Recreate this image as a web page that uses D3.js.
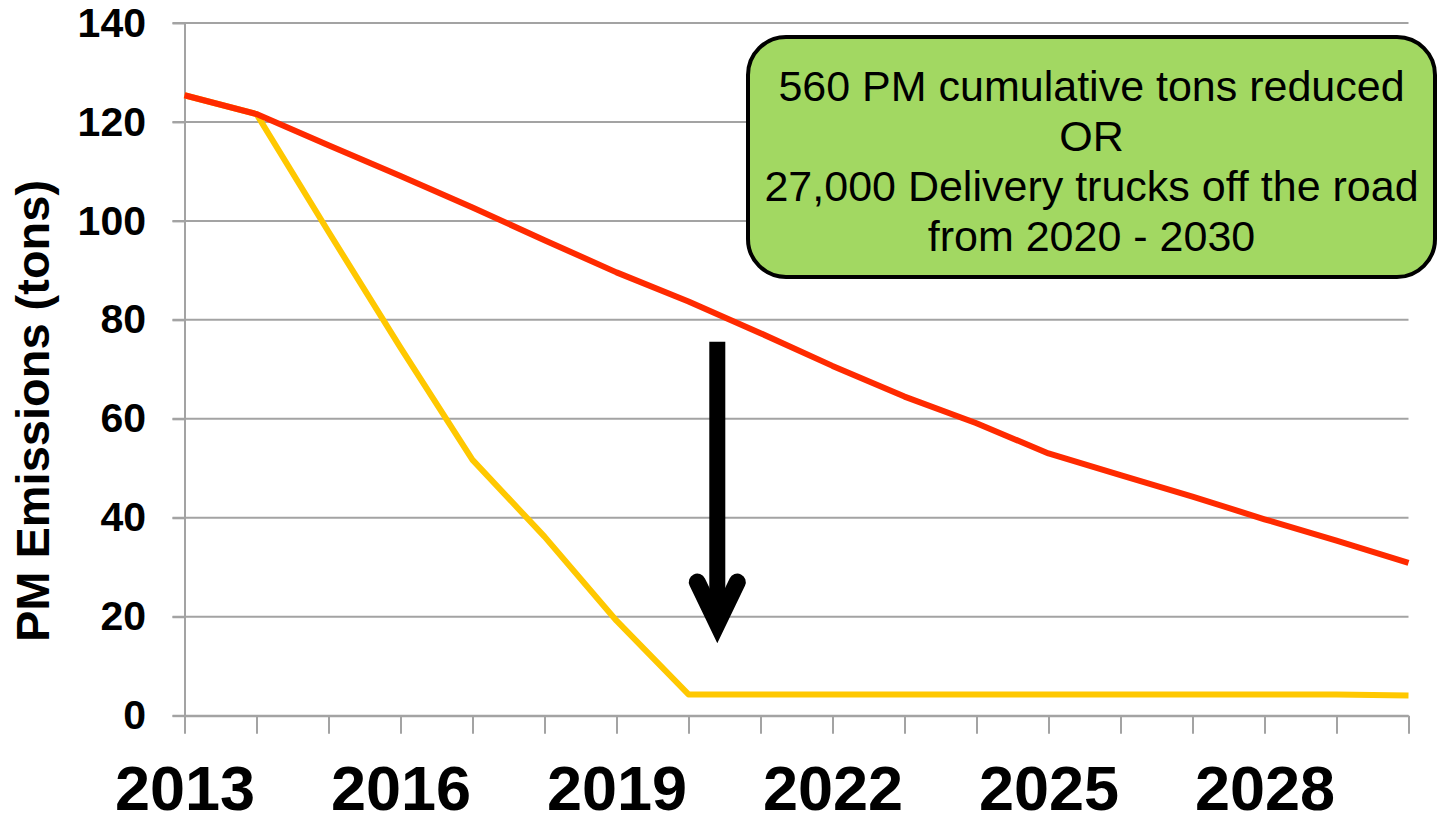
<!DOCTYPE html>
<html>
<head>
<meta charset="utf-8">
<script src="https://cdn.jsdelivr.net/npm/d3@7"></script>
<style>
  body { margin: 0; background: #fff; }
  svg { display: block; font-family: "Liberation Sans", Arial, sans-serif; }
</style>
</head>
<body>
<div id="grafico"></div>
<script>
// datos
var anios = [2013, 2014, 2015, 2016, 2017, 2018, 2019, 2020, 2021, 2022, 2023, 2024, 2025, 2026, 2027, 2028, 2029, 2030];
var emisionesBase = [125.4, 121.6, 115.3, 109.1, 102.7, 96.1, 89.6, 83.7, 77.3, 70.7, 64.5, 59.1, 53.0, 48.6, 44.3, 39.7, 35.4, 30.9];
var emisionesReducidas = [125.4, 121.6, 97.8, 74.4, 51.7, 36.2, 19.2, 4.3, 4.3, 4.3, 4.3, 4.3, 4.3, 4.3, 4.3, 4.3, 4.3, 4.1];
var ticksY = [0, 20, 40, 60, 80, 100, 120, 140];
var etiquetasX = [2013, 2016, 2019, 2022, 2025, 2028];
var textoCaja = ["560 PM cumulative tons reduced", "OR", "27,000 Delivery trucks off the road", "from 2020 - 2030"];
var tituloY = "PM Emissions (tons)";

function dibujar(zona) {

  //PREPARAMOS EL LUGAR PARA DIBUJAR EL GRÁFICO
  var margin = {top: 23, right: 28.5, bottom: 107.3, left: 184.5},
      w = 1437 - margin.left - margin.right,
      h = 823 - margin.top - margin.bottom;

  var x = d3.scaleLinear().domain([2013, 2030]).range([0, w]);
  var y = d3.scaleLinear().domain([0, 140]).range([h, 0]);

  var svg = d3.select(zona).append("svg")
    .attr("width", 1437)
    .attr("height", 823)
    .append("g")
    .attr("transform", "translate(" + margin.left + ", " + margin.top + ")");

  var gris = "#a3a3a3";

  //rejilla horizontal
  svg.append("g").attr("class", "grid")
    .selectAll("line")
    .data(ticksY)
    .enter()
    .append("line")
    .attr("x1", -12)
    .attr("x2", w)
    .attr("y1", function(d) { return y(d); })
    .attr("y2", function(d) { return y(d); })
    .attr("stroke", gris)
    .attr("stroke-width", 2);

  //eje y
  var yAxis = d3.axisLeft(y).tickValues(ticksY).tickSize(12).tickSizeOuter(0).tickPadding(26.5);
  var gy = svg.append("g").attr("class", "y axis").call(yAxis);
  gy.selectAll("line, path").attr("stroke", gris).attr("stroke-width", 2);
  gy.selectAll("text")
    .attr("fill", "#000")
    .style("font-size", "41px")
    .style("font-weight", "bold")
    .style("font-family", "'Liberation Sans', Arial, sans-serif");

  //eje x, marca en cada año y etiqueta cada tres
  var xAxis = d3.axisBottom(x).tickValues(anios).tickSize(18).tickSizeOuter(0)
    .tickFormat(function(d) { return etiquetasX.indexOf(d) >= 0 ? d : ""; });
  var gx = svg.append("g").attr("class", "x axis")
    .attr("transform", "translate(0, " + h + ")").call(xAxis);
  gx.selectAll("line, path").attr("stroke", gris).attr("stroke-width", 2);
  gx.selectAll("text")
    .attr("fill", "#000")
    .attr("y", 94)
    .attr("dy", 0)
    .style("font-size", "63px")
    .style("font-weight", "bold")
    .style("font-family", "'Liberation Sans', Arial, sans-serif");

  //titulo del eje y
  svg.append("text")
    .attr("transform", "translate(" + (49 - margin.left) + ", " + (411 - margin.top) + ") rotate(-90)")
    .attr("text-anchor", "middle")
    .style("font-size", "47px")
    .style("font-weight", "bold")
    .text(tituloY);

  var linea = d3.line()
    .x(function(d) { return x(d.x); })
    .y(function(d) { return y(d.y); });

  var puntosR = anios.map(function(a, i) { return {x: a, y: emisionesReducidas[i]}; });
  var puntosB = anios.map(function(a, i) { return {x: a, y: emisionesBase[i]}; });

  //linea amarilla (con reduccion) debajo de la roja
  svg.append("path")
    .attr("d", linea(puntosR))
    .attr("fill", "none")
    .attr("stroke", "#ffc800")
    .attr("stroke-width", 6)
    .attr("stroke-linejoin", "round");

  svg.append("path")
    .attr("d", linea(puntosB))
    .attr("fill", "none")
    .attr("stroke", "#ff2a00")
    .attr("stroke-width", 6)
    .attr("stroke-linejoin", "round");

  //flecha hacia abajo
  var xf = x(2020.4);
  svg.append("line")
    .attr("x1", xf).attr("x2", xf)
    .attr("y1", y(75.6)).attr("y2", y(20))
    .attr("stroke", "#000")
    .attr("stroke-width", 16);
  svg.append("path")
    .attr("d", "M" + (xf - 20) + "," + y(27) + "L" + xf + "," + y(18.6) + "L" + (xf + 20) + "," + y(27))
    .attr("fill", "none")
    .attr("stroke", "#000")
    .attr("stroke-width", 17)
    .attr("stroke-linecap", "round")
    .attr("stroke-linejoin", "miter");

  //caja verde con el texto
  var caja = svg.append("g").attr("transform", "translate(" + (748 - margin.left) + ", " + (37 - margin.top) + ")");
  caja.append("rect")
    .attr("width", 687)
    .attr("height", 240)
    .attr("rx", 38)
    .attr("fill", "#a2d862")
    .attr("stroke", "#000")
    .attr("stroke-width", 4);
  caja.selectAll("text")
    .data(textoCaja)
    .enter()
    .append("text")
    .attr("x", 343.5)
    .attr("y", function(d, i) { return 64 + i * 50; })
    .attr("text-anchor", "middle")
    .style("font-size", "43px")
    .text(function(d) { return d; });
}

dibujar("#grafico");
</script>
</body>
</html>
